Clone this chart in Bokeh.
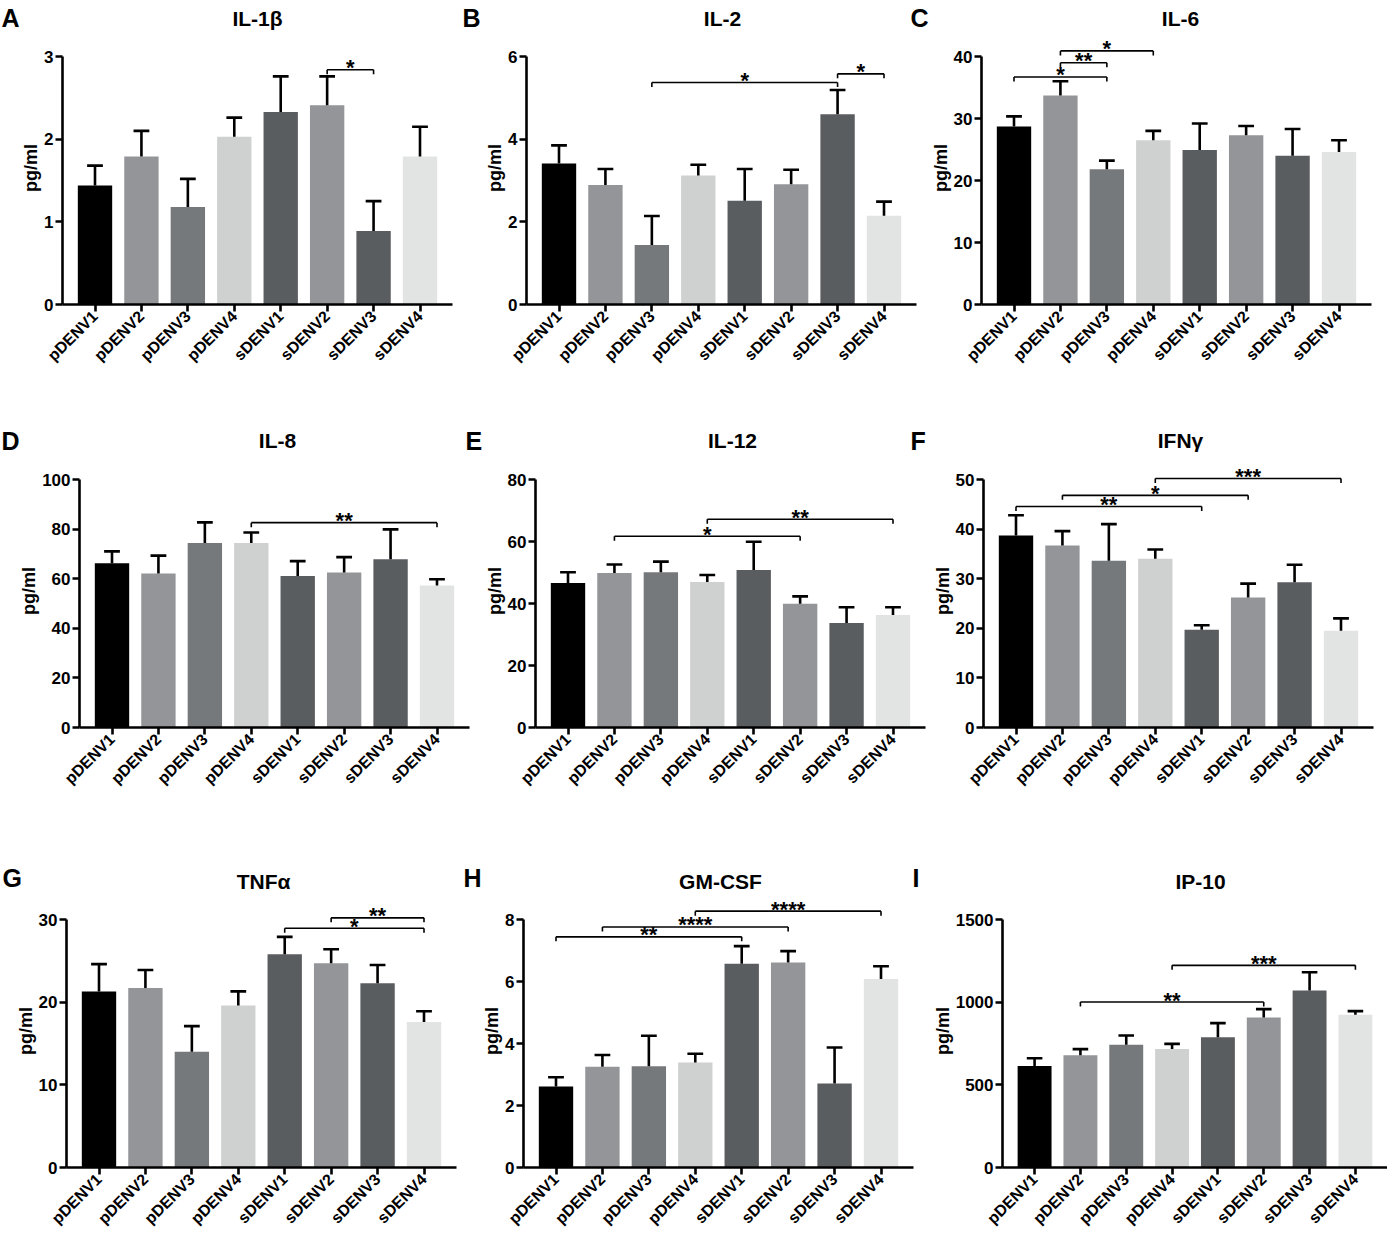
import numpy as np
from bokeh.plotting import figure
from bokeh.layouts import column, row
from bokeh.models import FixedTicker, Range1d, Spacer
from bokeh.embed import file_html
from bokeh.resources import INLINE
from bokeh.core.properties import value

groups = ["pDENV1", "pDENV2", "pDENV3", "pDENV4", "sDENV1", "sDENV2", "sDENV3", "sDENV4"]
bar_colors = ["#000000", "#939598", "#76797b", "#cfd0d0", "#5a5d60", "#939598", "#5a5d60", "#e2e3e3"]

# mean values and SEM (upper error) per cytokine
il1b_mean = [1.44, 1.79, 1.18, 2.03, 2.33, 2.41, 0.89, 1.79]
il1b_sem = [0.24, 0.31, 0.34, 0.23, 0.43, 0.35, 0.36, 0.36]
il2_mean = [3.41, 2.89, 1.44, 3.12, 2.51, 2.91, 4.60, 2.15]
il2_sem = [0.44, 0.39, 0.70, 0.26, 0.77, 0.35, 0.59, 0.34]
il6_mean = [28.7, 33.7, 21.8, 26.5, 24.9, 27.3, 24.0, 24.6]
il6_sem = [1.65, 2.3, 1.4, 1.5, 4.3, 1.5, 4.3, 1.9]
il8_mean = [66.2, 62.1, 74.4, 74.4, 61.1, 62.5, 67.8, 57.3]
il8_sem = [4.8, 7.2, 8.3, 4.2, 6.0, 6.2, 12.1, 2.5]
il12_mean = [46.6, 49.8, 50.1, 46.9, 50.8, 39.9, 33.7, 36.3]
il12_sem = [3.5, 2.8, 3.4, 2.3, 9.1, 2.4, 5.1, 2.5]
ifng_mean = [38.7, 36.7, 33.6, 34.0, 19.7, 26.2, 29.3, 19.5]
ifng_sem = [4.1, 2.9, 7.4, 1.9, 0.9, 2.8, 3.5, 2.5]
tnfa_mean = [21.3, 21.7, 14.0, 19.6, 25.8, 24.7, 22.3, 17.6]
tnfa_sem = [3.3, 2.2, 3.1, 1.7, 2.1, 1.7, 2.2, 1.3]
gmcsf_mean = [2.61, 3.25, 3.27, 3.39, 6.57, 6.61, 2.71, 6.08]
gmcsf_sem = [0.30, 0.38, 0.98, 0.28, 0.57, 0.37, 1.16, 0.41]
ip10_mean = [614, 679, 742, 716, 788, 908, 1071, 924]
ip10_sem = [47, 37, 56, 32, 85, 50, 110, 22]

# significance brackets: (group i, group j, bracket level, stars)
il1b_sig = [(5, 6, 2.84, "*")]
il2_sig = [(2, 6, 5.37, "*"), (6, 7, 5.58, "*")]
il6_sig = [(0, 2, 36.7, "*"), (1, 2, 39.0, "**"), (1, 3, 40.9, "*")]
il8_sig = [(3, 7, 82.6, "**")]
il12_sig = [(1, 5, 61.7, "*"), (3, 7, 67.2, "**")]
ifng_sig = [(0, 4, 44.55, "**"), (1, 5, 46.8, "*"), (3, 7, 50.2, "***")]
tnfa_sig = [(4, 7, 28.94, "*"), (5, 7, 30.2, "**")]
gmcsf_sig = [(0, 4, 7.44, "**"), (1, 5, 7.76, "****"), (3, 7, 8.27, "****")]
ip10_sig = [(1, 5, 1000.7, "**"), (3, 7, 1222.6, "***")]

# y axis ticks
il1b_ticks = [0, 1, 2, 3]
il2_ticks = [0, 2, 4, 6]
il6_ticks = [0, 10, 20, 30, 40]
il8_ticks = [0, 20, 40, 60, 80, 100]
il12_ticks = [0, 20, 40, 60, 80]
ifng_ticks = [0, 10, 20, 30, 40, 50]
tnfa_ticks = [0, 10, 20, 30]
gmcsf_ticks = [0, 2, 4, 6, 8]
ip10_ticks = [0, 500, 1000, 1500]

panel_letters = ["A", "B", "C", "D", "E", "F", "G", "H", "I"]
panel_titles = ["IL-1β", "IL-2", "IL-6", "IL-8", "IL-12", "IFNγ", "TNFα", "GM-CSF", "IP-10"]

FONT = "Liberation Sans"
AX = 248      # pixel length of the y axis line
FH = 273      # frame height (axis + room for brackets)
STRIP_W = 1390


def panel(means, sems, ticks, sigs, L, FW, R, bottom):
    ymax = ticks[-1]
    yend = ymax * FH / AX
    p = figure(width=L + FW + R, height=FH + bottom,
               x_range=Range1d(-0.7, 7.7), y_range=Range1d(0, yend),
               min_border_left=L, min_border_right=R,
               min_border_top=0, min_border_bottom=bottom,
               output_backend="svg", toolbar_location=None)
    p.xgrid.visible = False
    p.ygrid.visible = False
    p.outline_line_color = None

    xs = np.arange(len(groups))
    m = np.array(means, dtype=float)
    s = np.array(sems, dtype=float)
    p.vbar(x=xs, top=m, bottom=0, width=0.74, fill_color=bar_colors, line_color=None)
    p.segment(x0=xs, y0=m, x1=xs, y1=m + s, line_color="black", line_width=2.6)
    p.segment(x0=xs - 0.17, y0=m + s, x1=xs + 0.17, y1=m + s, line_color="black", line_width=2.6)

    drop = ymax * 4.5 / AX
    lift = ymax * 2.0 / AX
    for (i, j, yb, stars) in sigs:
        p.segment(x0=[i, i, j], y0=[yb, yb, yb], x1=[j, i, j], y1=[yb, yb - drop, yb - drop],
                  line_color="black", line_width=1.6)
        p.text(x=[(i + j) / 2], y=[yb + lift], text=[stars], text_align="center",
               text_baseline="middle", text_font_size="22px", text_font_style="bold",
               text_font=value(FONT), text_color="black")

    for ax in (p.xaxis[0], p.yaxis[0]):
        ax.axis_line_width = 2.6
        ax.axis_line_color = "black"
        ax.major_tick_line_width = 2.6
        ax.major_tick_line_color = "black"
        ax.major_tick_out = 7
        ax.major_tick_in = 0
        ax.minor_tick_line_color = None
        ax.major_label_text_font = FONT
        ax.major_label_text_font_style = "bold"
        ax.major_label_text_color = "black"

    p.xaxis.major_label_text_font_size = "16px"
    p.xaxis.ticker = FixedTicker(ticks=list(range(len(groups))))
    p.xaxis.major_label_overrides = {i: g for i, g in enumerate(groups)}
    p.xaxis.major_label_orientation = np.pi / 4
    p.xaxis.major_label_standoff = 2

    p.yaxis.major_label_text_font_size = "17px"
    p.yaxis.ticker = FixedTicker(ticks=ticks)
    p.yaxis.bounds = (0, ymax)
    p.yaxis.major_label_standoff = 2
    p.yaxis.axis_label = "pg/ml"
    p.yaxis.axis_label_text_font = FONT
    p.yaxis.axis_label_text_font_style = "bold"
    p.yaxis.axis_label_text_font_size = "18px"
    p.yaxis.axis_label_text_color = "black"
    p.yaxis.axis_label_standoff = 0
    return p


def header(height, letters, letter_x, letter_c, titles, title_x, title_c):
    # centres are given as distances from the top of the strip
    h = figure(width=STRIP_W, height=height, x_range=Range1d(0, STRIP_W),
               y_range=Range1d(0, height), min_border=0,
               x_axis_location=None, y_axis_location=None,
               output_backend="svg", toolbar_location=None)
    h.xgrid.visible = False
    h.ygrid.visible = False
    h.outline_line_color = None
    h.text(x=letter_x, y=[height - letter_c] * len(letters), text=letters, text_align="left",
           text_baseline="middle", text_font=value(FONT), text_font_style="bold",
           text_font_size="25px", text_color="black")
    h.text(x=title_x, y=[height - title_c] * len(titles), text=titles, text_align="center",
           text_baseline="middle", text_font=value(FONT), text_font_style="bold",
           text_font_size="21px", text_color="black")
    return h


# row 1
h1 = header(31, panel_letters[0:3], [1, 462, 910], 17.5, panel_titles[0:3], [257, 722, 1180], 17.5)
pA = panel(il1b_mean, il1b_sem, il1b_ticks, il1b_sig, 47, 390, 27, 115)
pB = panel(il2_mean, il2_sem, il2_ticks, il2_sig, 47, 390, 9, 115)
pC = panel(il6_mean, il6_sem, il6_ticks, il6_sig, 56, 390, 10, 115)
# row 2
h2 = header(35, panel_letters[3:6], [1, 465, 910], 21.5, panel_titles[3:6], [277, 732, 1180], 20.5)
pD = panel(il8_mean, il8_sem, il8_ticks, il8_sig, 65, 390, 10, 131)
pE = panel(il12_mean, il12_sem, il12_ticks, il12_sig, 56, 390, 2, 131)
pF = panel(ifng_mean, ifng_sem, ifng_ticks, ifng_sig, 56, 390, 8, 131)
# row 3
h3 = header(36, panel_letters[6:9], [2, 463, 912], 19, panel_titles[6:9], [263, 720, 1200], 22.5)
pG = panel(tnfa_mean, tnfa_sem, tnfa_ticks, tnfa_sig, 56, 390, 20, 72)
pH = panel(gmcsf_mean, gmcsf_sem, gmcsf_ticks, gmcsf_sig, 47, 390, 14, 72)
pI = panel(ip10_mean, ip10_sem, ip10_ticks, ip10_sig, 75, 385, 0, 72)

layout = column(
    h1, row(Spacer(width=15, height=10), pA, pB, pC),
    h2, row(Spacer(width=14, height=10), pD, pE, pF),
    h3, row(Spacer(width=10, height=10), pG, pH, pI),
)

with open("out.html", "w") as f:
    f.write(file_html(layout, INLINE))
